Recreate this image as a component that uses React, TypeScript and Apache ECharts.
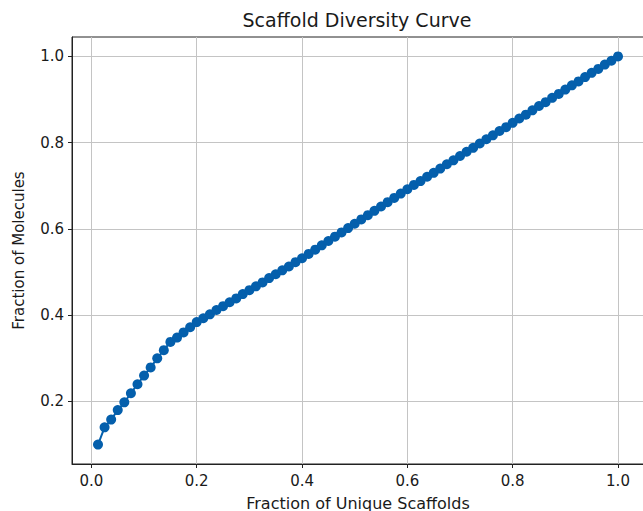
import React, { useEffect, useRef } from "react";
import * as echarts from "echarts";

const title = "Scaffold Diversity Curve";
const xName = "Fraction of Unique Scaffolds";
const yName = "Fraction of Molecules";

const fracScaffolds: number[] = [
  0.0125, 0.025, 0.0375, 0.05, 0.0625, 0.075, 0.0875, 0.1,
  0.1125, 0.125, 0.1375, 0.15, 0.1625, 0.175, 0.1875, 0.2,
  0.2125, 0.225, 0.2375, 0.25, 0.2625, 0.275, 0.2875, 0.3,
  0.3125, 0.325, 0.3375, 0.35, 0.3625, 0.375, 0.3875, 0.4,
  0.4125, 0.425, 0.4375, 0.45, 0.4625, 0.475, 0.4875, 0.5,
  0.5125, 0.525, 0.5375, 0.55, 0.5625, 0.575, 0.5875, 0.6,
  0.6125, 0.625, 0.6375, 0.65, 0.6625, 0.675, 0.6875, 0.7,
  0.7125, 0.725, 0.7375, 0.75, 0.7625, 0.775, 0.7875, 0.8,
  0.8125, 0.825, 0.8375, 0.85, 0.8625, 0.875, 0.8875, 0.9,
  0.9125, 0.925, 0.9375, 0.95, 0.9625, 0.975, 0.9875, 1.0,
];

const fracMolecules: number[] = [
  0.100, 0.140, 0.158, 0.180, 0.198, 0.219, 0.240, 0.260,
  0.279, 0.300, 0.319, 0.338, 0.348, 0.360, 0.372, 0.384,
  0.393, 0.402, 0.412, 0.421, 0.430, 0.439, 0.449, 0.458,
  0.467, 0.476, 0.486, 0.495, 0.504, 0.513, 0.523, 0.532,
  0.542, 0.552, 0.562, 0.572, 0.582, 0.592, 0.602, 0.612,
  0.622, 0.632, 0.642, 0.652, 0.662, 0.672, 0.682, 0.692,
  0.702, 0.711, 0.721, 0.730, 0.740, 0.750, 0.759, 0.769,
  0.779, 0.788, 0.798, 0.808, 0.817, 0.827, 0.836, 0.846,
  0.856, 0.865, 0.875, 0.885, 0.894, 0.904, 0.913, 0.923,
  0.933, 0.942, 0.952, 0.962, 0.971, 0.981, 0.990, 1.000,
];

const FONT = "DejaVu Sans";
const TEXT = "#1a1a1a";

export default function App() {
  const ref = useRef<HTMLDivElement>(null);
  useEffect(() => {
    if (!ref.current) return;
    const chart = echarts.init(ref.current, undefined, { renderer: "svg" });
    const data = fracScaffolds.map((x, i) => [x, fracMolecules[i]]);
    const axisCommon = {
      type: "value",
      splitNumber: 5,
      nameLocation: "middle",
      axisLine: { show: true, onZero: false, lineStyle: { color: "#222", width: 1 } },
      axisTick: { show: true, length: 4, lineStyle: { color: "#222" } },
      splitLine: {
        show: true,
        showMinLine: false,
        showMaxLine: false,
        lineStyle: { color: "#c4c4c4", width: 1 },
      },
    };
    chart.setOption({
      animation: false,
      backgroundColor: "#ffffff",
      title: {
        text: title,
        left: 352,
        textAlign: "center",
        top: 5,
        textStyle: { fontFamily: FONT, fontSize: 19, fontWeight: "normal", color: TEXT },
      },
      grid: {
        left: 72,
        top: 37,
        width: 572,
        height: 427,
        outerBoundsMode: "none",
        containLabel: false,
        show: true,
        borderColor: "#222",
        borderWidth: 1,
        backgroundColor: "transparent",
      },
      xAxis: {
        ...axisCommon,
        min: -0.036875,
        max: 1.049375,
        name: xName,
        nameGap: 31,
        nameTextStyle: { fontFamily: FONT, fontSize: 16, color: TEXT },
        axisLabel: {
          showMinLabel: false,
          showMaxLabel: false,
          margin: 9,
          fontFamily: FONT,
          fontSize: 15,
          color: TEXT,
          formatter: (v: number) => v.toFixed(1),
        },
      },
      yAxis: {
        ...axisCommon,
        min: 0.055,
        max: 1.045,
        name: yName,
        nameGap: 46,
        nameTextStyle: { fontFamily: FONT, fontSize: 15, color: TEXT },
        axisLabel: {
          showMinLabel: false,
          showMaxLabel: false,
          margin: 8,
          fontFamily: FONT,
          fontSize: 15,
          color: TEXT,
          formatter: (v: number) => v.toFixed(1),
        },
      },
      series: [
        {
          type: "line",
          data,
          symbol: "circle",
          symbolSize: 10,
          showSymbol: true,
          itemStyle: { color: "#045fac" },
          lineStyle: { color: "#045fac", width: 2 },
        },
      ],
    });
    return () => chart.dispose();
  }, []);
  return (
    <div
      ref={ref}
      style={{ position: "fixed", left: 0, top: 0, width: 643, height: 511, background: "#fff" }}
    />
  );
}
